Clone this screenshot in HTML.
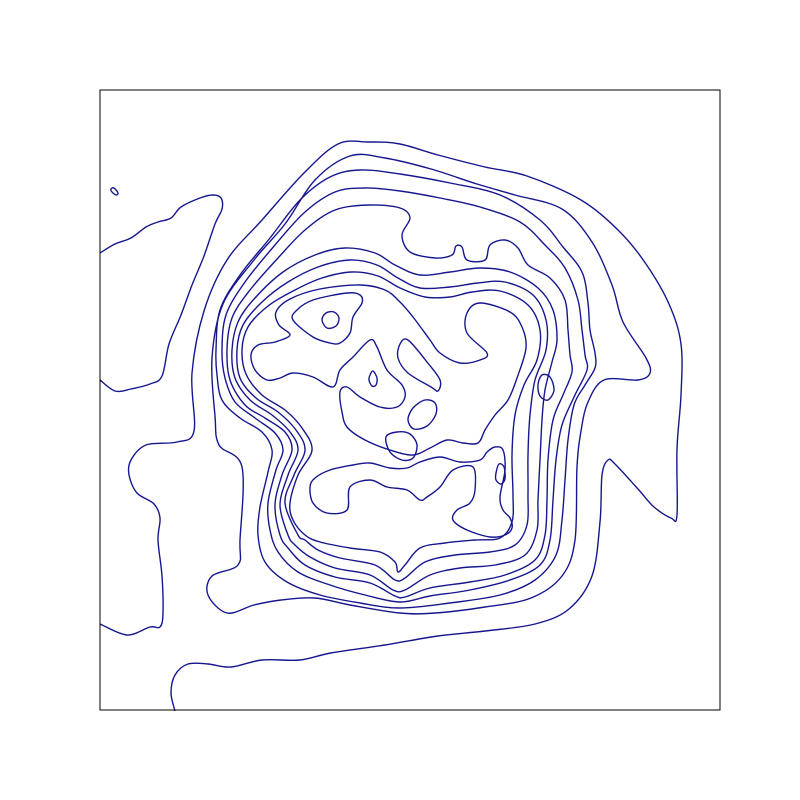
<!DOCTYPE html>
<html><head><meta charset="utf-8"><style>
html,body{margin:0;padding:0;background:#fff;}
svg{display:block;}
</style></head><body>
<svg id="chart" width="800" height="800" viewBox="0 0 800 800" xmlns="http://www.w3.org/2000/svg">
<rect x="0" y="0" width="800" height="800" fill="#fff"/>
<g id="contours"></g>
<rect x="100" y="90" width="620" height="620" fill="none" stroke="#000" stroke-width="1"/>
</svg>
<script>
// Contour lines in grid coordinates (grid x: 100..720, grid y: 90..710)
const outerLevel = [[100,624],[127,635],[150,627],[160,627],[163,613],[162,576],[158,540],[160,518],[154,504],[137,493],[129,475],[131,460],[146,445],[177,442],[194,431],[192,373],[204,311],[227,260],[262,220],[304,173],[338,144],[369,142],[400,144],[438,155],[485,167],[527,176],[581,200],[619,231],[646,264],[669,304],[681,344],[681,395],[677,449],[677,515],[671,518],[654,507],[638,489],[615,464],[608,460],[602,475],[600,522],[592,576],[569,609],[535,624],[485,631],[438,636],[385,645],[331,653],[300,660],[262,660],[231,667],[208,664],[188,664],[175,675],[171,693],[175,711]];
const leftLevel = [[100,253],[115,244],[131,238],[146,227],[158,222],[171,218],[181,207],[200,198],[213,195],[221,198],[222,209],[215,224],[204,256],[192,285],[181,315],[169,344],[162,376],[150,384],[131,389],[115,391],[100,380]];
const ring1 = [[227,613],[208,595],[212,576],[238,565],[240,540],[242,467],[219,445],[215,416],[212,358],[223,304],[254,260],[285,224],[315,180],[350,156],[385,158],[431,169],[477,184],[515,195],[562,209],[592,242],[612,285],[623,322],[646,358],[650,373],[638,380],[604,380],[588,402],[581,431],[577,467],[575,540],[562,576],[531,598],[485,607],[435,613],[400,613],[350,605],[315,598],[281,600],[254,605]];
const ring2 = [[216,350],[220,310],[240,275],[270,238],[300,200],[330,177],[360,170],[400,174],[450,183],[500,195],[540,220],[563,247],[582,272],[588,303],[590,330],[595,353],[595,368],[585,385],[574,405],[568,440],[565,480],[562,520],[556,555],[535,580],[500,595],[450,603],[400,608],[360,603],[320,595],[287,582],[265,562],[258,535],[260,507],[268,472],[272,450],[262,432],[240,418],[222,400],[217,375]];
const ring3 = [[222,350],[226,315],[245,282],[275,245],[305,212],[335,192],[365,188],[400,191],[440,198],[480,207],[520,222],[545,245],[565,268],[578,300],[582,330],[585,355],[587,370],[575,395],[562,425],[556,460],[553,500],[550,540],[540,565],[510,580],[470,590],[430,596],[400,602],[365,595],[330,585],[298,572],[278,552],[270,530],[268,503],[276,470],[283,450],[275,433],[255,418],[235,402],[225,378]];
const ring4 = [[227,350],[232,318],[250,290],[278,258],[305,230],[335,210],[370,205],[400,208],[410,218],[402,235],[410,252],[435,258],[452,255],[456,246],[462,247],[467,260],[485,260],[490,245],[505,240],[518,248],[528,265],[550,278],[565,300],[568,330],[570,355],[572,372],[563,395],[553,420],[548,460],[547,500],[545,535],[535,560],[505,575],[470,582],[430,588],[405,597],[395,596],[370,583],[335,577],[305,565],[288,548],[280,535],[275,505],[282,475],[292,450],[285,432],[265,418],[245,405],[230,380]];
const ring5 = [[232,350],[238,322],[255,298],[283,272],[315,255],[345,248],[375,253],[395,265],[420,275],[450,272],[480,268],[510,272],[538,288],[553,310],[557,340],[552,362],[545,390],[542,420],[540,460],[538,500],[537,530],[525,555],[495,565],[460,568],[430,575],[405,590],[393,590],[370,575],[335,568],[310,557],[295,545],[288,535],[280,505],[288,475],[298,450],[290,432],[272,415],[250,400],[235,378]];
const ring6 = [[237,350],[243,325],[262,302],[288,282],[318,267],[350,260],[377,265],[398,278],[420,288],[450,287],[478,283],[505,282],[533,295],[546,320],[546,350],[535,380],[530,415],[528,455],[528,495],[527,525],[515,545],[490,552],[455,555],[425,562],[405,578],[395,580],[375,565],[340,558],[318,550],[305,540],[298,535],[285,503],[294,475],[305,450],[296,430],[278,412],[256,398],[240,378]];
const ring7 = [[242,350],[248,327],[268,306],[295,290],[322,278],[352,272],[378,276],[400,288],[425,297],[450,297],[472,292],[500,291],[528,305],[540,330],[537,360],[524,385],[515,415],[512,455],[513,495],[512,522],[500,538],[475,540],[445,543],[420,548],[405,565],[398,572],[395,562],[380,552],[350,548],[320,542],[305,535],[293,520],[290,503],[298,475],[312,450],[302,428],[285,410],[262,395],[246,374]];
const innerWinding = [[280,378],[293,373],[313,377],[333,387],[340,370],[353,357],[370,340],[377,347],[387,370],[402,385],[405,397],[397,407],[380,407],[360,397],[347,387],[340,392],[342,412],[347,427],[365,440],[390,450],[413,455],[430,448],[447,440],[463,443],[478,443],[485,430],[495,415],[508,400],[517,378],[526,348],[522,327],[510,312],[480,303],[467,313],[467,333],[487,353],[480,360],[460,363],[440,353],[430,340],[413,317],[400,302],[385,290],[360,285],[320,289],[290,299],[276,312],[279,325],[290,335],[275,342],[258,345],[251,355],[255,370],[267,380]];
const innerBottom = [[310,487],[313,503],[327,513],[347,510],[350,487],[370,480],[387,487],[407,490],[420,500],[427,497],[440,487],[453,470],[473,467],[475,490],[470,503],[457,510],[453,520],[467,530],[490,537],[505,535],[512,528],[510,518],[503,510],[500,497],[505,470],[503,450],[495,447],[487,452],[480,460],[460,462],[440,457],[420,462],[407,468],[390,468],[370,463],[353,465],[330,470],[315,478]];
const blobTriangle = [[293,320],[297,310],[313,300],[347,293],[360,295],[362,303],[353,317],[350,333],[340,343],[330,343],[313,337]];
const blobMid = [[400,344],[408,340],[427,362],[440,380],[438,391],[431,387],[408,373],[398,358]];
const loopA = [[322,320],[326,313],[334,312],[339,318],[336,326],[327,328]];
const loopB = [[370,375],[373,371],[377,378],[376,385],[372,386],[369,380]];
const loopC = [[408,420],[413,408],[425,400],[435,403],[436,414],[427,426],[414,429]];
const loopD = [[386,437],[397,432],[410,434],[417,445],[413,458],[402,460],[390,452]];
const loopE = [[496,473],[499,464],[504,467],[505,479],[501,484],[496,480]];
const loopF = [[538,385],[542,375],[550,377],[554,390],[548,400],[540,396]];
const loopTiny = [[111,189],[114,188],[118,193],[116,195],[112,192]];

const openLines = [outerLevel, leftLevel];
const closedLines = [ring1, ring2, ring3, ring4, ring5, ring6, ring7, innerWinding, innerBottom, blobTriangle, blobMid, loopA, loopB, loopC, loopD, loopE, loopF, loopTiny];

const xDomain = [100, 720], yDomain = [90, 710];
const xRange = [100, 720], yRange = [90, 710];
function sx(g){ return xRange[0] + (g - xDomain[0]) * (xRange[1] - xRange[0]) / (xDomain[1] - xDomain[0]); }
function sy(g){ return yRange[0] + (g - yDomain[0]) * (yRange[1] - yRange[0]) / (yDomain[1] - yDomain[0]); }

function pathFor(pts, closed){
  const p = pts.map(d => [sx(d[0]), sy(d[1])]);
  const n = p.length;
  const get = i => closed ? p[(i + n) % n] : p[Math.max(0, Math.min(n - 1, i))];
  let s = 'M' + p[0][0].toFixed(1) + ',' + p[0][1].toFixed(1);
  const last = closed ? n : n - 1;
  for (let i = 0; i < last; i++) {
    const p0 = get(i - 1), p1 = get(i), p2 = get(i + 1), p3 = get(i + 2);
    const c1x = p1[0] + (p2[0] - p0[0]) / 6, c1y = p1[1] + (p2[1] - p0[1]) / 6;
    const c2x = p2[0] - (p3[0] - p1[0]) / 6, c2y = p2[1] - (p3[1] - p1[1]) / 6;
    s += 'C' + c1x.toFixed(1) + ',' + c1y.toFixed(1) + ' ' + c2x.toFixed(1) + ',' + c2y.toFixed(1) + ' ' + p2[0].toFixed(1) + ',' + p2[1].toFixed(1);
  }
  if (closed) s += 'Z';
  return s;
}

const g = document.getElementById('contours');
const NS = 'http://www.w3.org/2000/svg';
function addLine(pts, closed, idx){
  const el = document.createElementNS(NS, 'path');
  el.setAttribute('d', pathFor(pts, closed));
  el.setAttribute('fill', 'none');
  el.setAttribute('stroke', '#16168f');
  el.setAttribute('stroke-width', '1.4');
  el.setAttribute('stroke-linejoin', 'round');
  
  
  g.appendChild(el);
}
let k = 0;
openLines.forEach(l => addLine(l, false, k++));
closedLines.forEach(l => addLine(l, true, k++));
</script>
</body></html>
